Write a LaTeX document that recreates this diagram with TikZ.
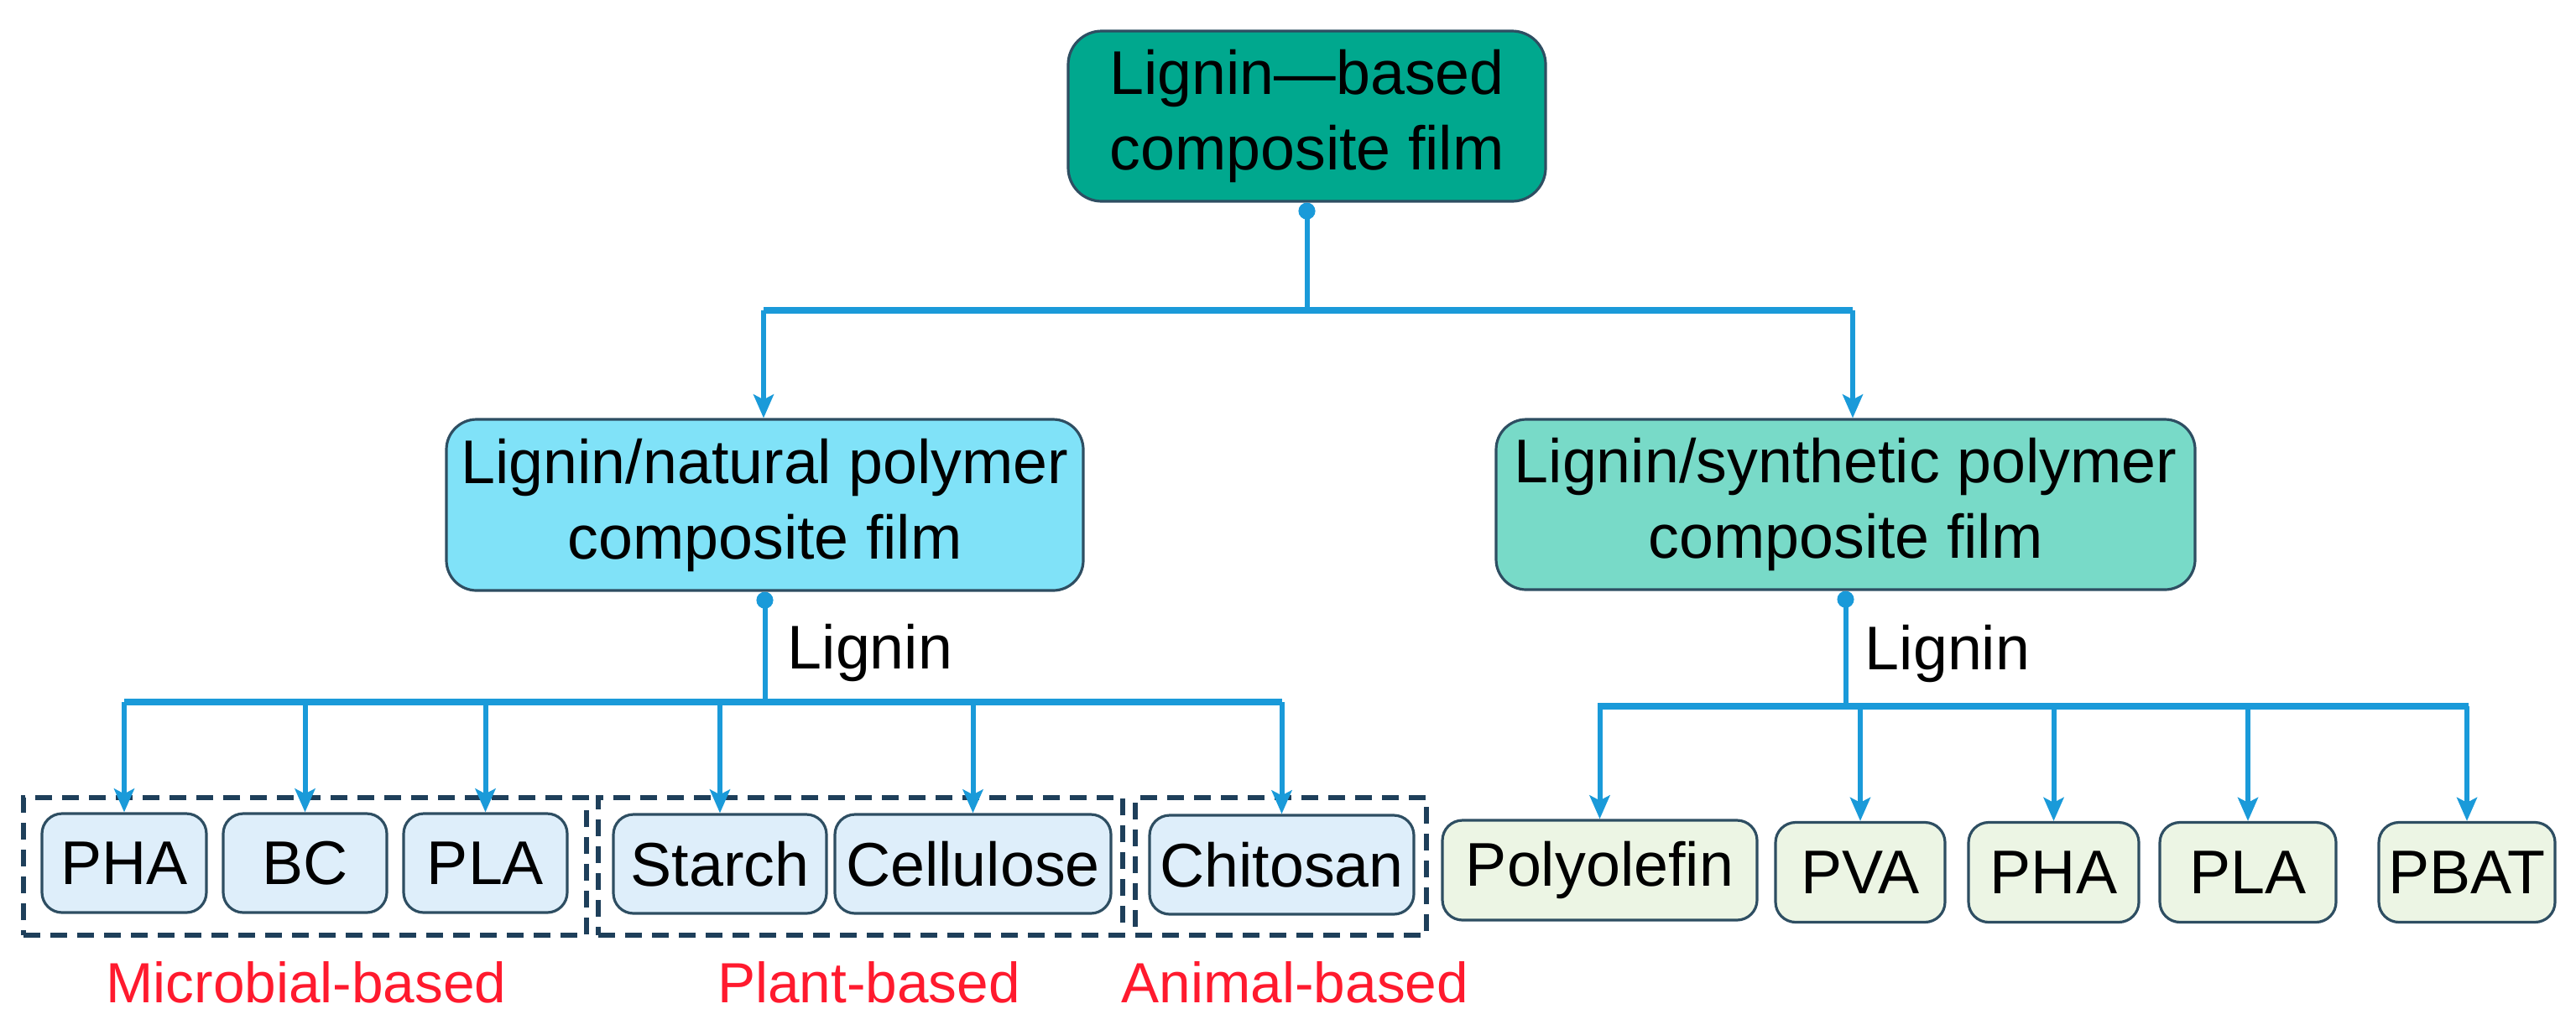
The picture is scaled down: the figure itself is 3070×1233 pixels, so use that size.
\documentclass[tikz,border=0pt]{standalone}
\usepackage{fontspec}
\setmainfont{Liberation Sans}
\usetikzlibrary{arrows.meta}
\definecolor{cline}{HTML}{1A9AD9}
\definecolor{ctop}{HTML}{00A88E}
\definecolor{cnat}{HTML}{80E2F8}
\definecolor{csyn}{HTML}{78DAC8}
\definecolor{cbl}{HTML}{DEEEFA}
\definecolor{cbr}{HTML}{ECF5E4}
\definecolor{cedge}{HTML}{2E4E62}
\definecolor{cdash}{HTML}{1E3F5A}
\definecolor{cred}{HTML}{FF1A2E}
\tikzset{
  bigfont/.style={font=\fontsize{18.4pt}{22.5pt}\selectfont},
  redfont/.style={font=\fontsize{16.9pt}{20pt}\selectfont, text=cred},
  anybox/.style={draw=cedge, line width=0.8pt, inner sep=0pt, align=center, bigfont},
  topbox/.style={anybox, fill=ctop, rounded corners=10pt, minimum width=142.25pt, minimum height=50.75pt},
  natbox/.style={anybox, fill=cnat, rounded corners=9pt, minimum width=189.75pt, minimum height=51pt},
  synbox/.style={anybox, fill=csyn, rounded corners=9pt, minimum width=208.25pt, minimum height=50.75pt},
  leafl/.style={anybox, fill=cbl, rounded corners=6pt, minimum height=29.5pt},
  leafr/.style={anybox, fill=cbr, rounded corners=6pt, minimum height=29.75pt},
  groupbox/.style={draw=cdash, line width=1.3pt, dash pattern=on 5pt off 3pt, minimum height=41pt, inner sep=0pt},
  conn/.style={draw=cline, line width=1.5pt},
  bar/.style={draw=cline, line width=2pt},
  arr/.style={conn, -{Stealth[length=7pt,width=6pt,inset=1.5pt]}},
  dotstart/.style={conn, {Circle[length=5pt]}-},
  lbl/.style={bigfont, anchor=base west, inner sep=0pt}
}
\begin{document}
\begin{tikzpicture}[x=0.25pt, y=-0.25pt]
\useasboundingbox (0,0) rectangle (3070,1233);
% main nodes
\node[topbox] (top) at (1557.5,138.5) {Lignin—based\\composite film};
\node[natbox] (nat) at (911.5,602) {Lignin/natural polymer\\composite film};
\node[synbox] (syn) at (2199.5,601.5) {Lignin/synthetic polymer\\composite film};
% group boxes
\node[groupbox, minimum width=167.75pt] (g1) at (363.5,1033) {};
\node[groupbox, minimum width=156.25pt] (g2) at (1025.5,1033) {};
\node[groupbox, minimum width=86.75pt] (g3) at (1526.5,1033) {};
% left leaves
\node[leafl, minimum width=49pt] (pha1) at (148,1029) {PHA};
\node[leafl, minimum width=48.75pt] (bc) at (363.5,1029) {BC};
\node[leafl, minimum width=48.75pt] (pla1) at (578.5,1029) {PLA};
\node[leafl, minimum width=63.5pt] (starch) at (858,1030) {Starch};
\node[leafl, minimum width=82.25pt] (cell) at (1159.5,1030) {Cellulose};
\node[leafl, minimum width=78.75pt] (chit) at (1527.5,1031) {Chitosan};
% right leaves
\node[leafr, minimum width=93.75pt] (poly) at (1906.5,1037.5) {Polyolefin};
\node[leafr, minimum width=50.5pt] (pva) at (2217,1040) {PVA};
\node[leafr, minimum width=50.75pt] (pha2) at (2447.5,1040) {PHA};
\node[leafr, minimum width=52.5pt] (pla2) at (2679,1040) {PLA};
\node[leafr, minimum width=52.5pt] (pbat) at (2940,1040) {PBAT};
% labels
\node[lbl] (lg1) at (938,797) {Lignin};
\node[lbl] (lg2) at (2222,798) {Lignin};
\node[redfont, anchor=base, inner sep=0pt] (mb) at (365,1195) {Microbial-based};
\node[redfont, anchor=base, inner sep=0pt] (pb) at (1035.5,1195) {Plant-based};
\node[redfont, anchor=base, inner sep=0pt] (ab) at (1543.5,1195) {Animal-based};
% junction coordinates
\coordinate (j0) at (1557.5,370);
\coordinate (jl) at (910,370);
\coordinate (jr) at (2208,370);
\coordinate (k0) at (911.5,837);
\coordinate (kl) at (148,837);
\coordinate (kr) at (1528,837);
\coordinate (m0) at (2199.5,842);
\coordinate (ml) at (1904,842);
\coordinate (mr) at (2942,842);
% top level
\draw[dotstart] (top.south) -- (j0);
\draw[bar] (jl) -- (jr);
\draw[arr] (jl) -- (jl |- nat.north);
\draw[arr] (jr) -- (jr |- syn.north);
% natural branch
\draw[dotstart] (nat.south) -- (k0);
\draw[bar] (kl) -- (kr);
\foreach \n in {pha1,bc,pla1,starch,cell,chit}
  \draw[arr] (kl -| \n.north) -- (\n.north);
% synthetic branch
\draw[dotstart] (syn.south) -- (m0);
\draw[bar] (ml) -- (mr);
\foreach \n in {poly,pva,pha2,pla2,pbat}
  \draw[arr] (ml -| \n.north) -- (\n.north);
\end{tikzpicture}
\end{document}
